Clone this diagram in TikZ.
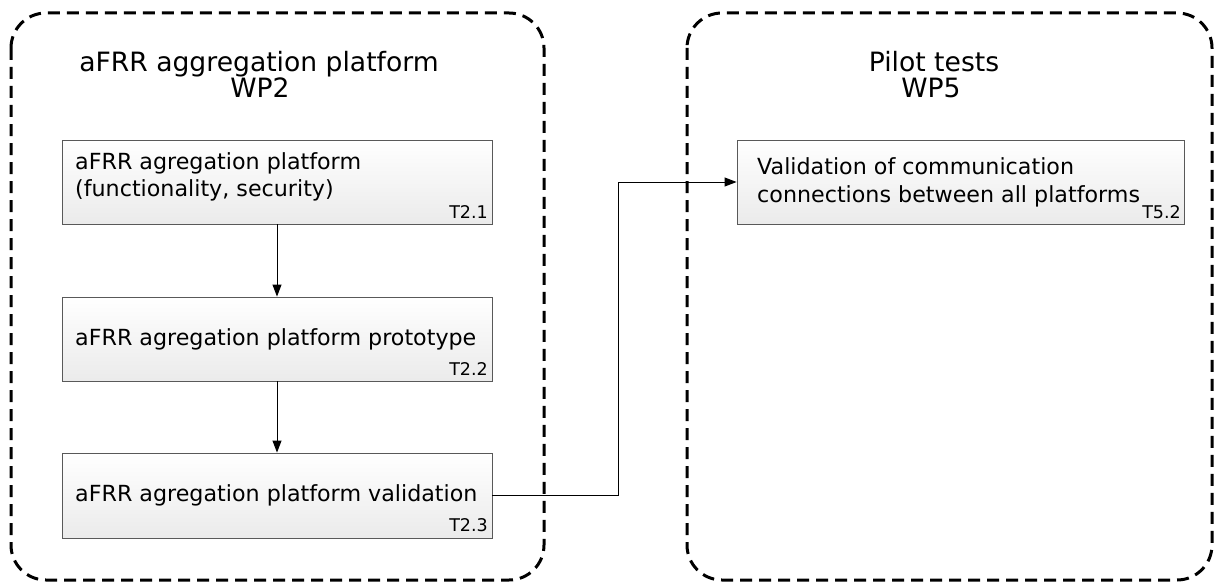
\documentclass[tikz,border=0pt]{standalone}
\usepackage{fontspec}
\setmainfont{DejaVu Sans}
\usetikzlibrary{arrows.meta}
\begin{document}
\begin{tikzpicture}[x=1pt,y=-1pt,
  container/.style={draw=black, line width=3pt, dash pattern=on 12pt off 7pt, rounded corners=35pt},
  taskbox/.style={draw=black!65, line width=0.9pt, top color=white, bottom color=black!8, inner sep=0pt},
  boxtext/.style={font=\fontsize{22.2}{27.5}\selectfont, align=left, inner sep=0pt},
  tasklabel/.style={font=\fontsize{17.5}{19}\selectfont, inner sep=0pt, anchor=base east},
  titletext/.style={font=\fontsize{26.6}{28}\selectfont, inner sep=0pt, anchor=base},
  conn/.style={draw=black, line width=0.9pt, -{Triangle[length=12pt,width=9pt]}}
]
\useasboundingbox (0,0) rectangle (1214,583);

% containers
\draw[container] (11,13) rectangle (544,580);
\draw[container] (687,13) rectangle (1212,580);

% titles
\node[titletext] (t1a) at (259,72) {aFRR aggregation platform};
\node[titletext] (t1b) at (260,98) {WP2};
\node[titletext] (t2a) at (934,72) {Pilot tests};
\node[titletext] (t2b) at (931,98) {WP5};

% task boxes
\node[taskbox, minimum width=430pt, minimum height=84pt] (b1) at (277,182) {};
\node[taskbox, minimum width=430pt, minimum height=84pt] (b2) at (277,339) {};
\node[taskbox, minimum width=430pt, minimum height=85pt] (b3) at (277,495.5) {};
\node[taskbox, minimum width=447pt, minimum height=84pt] (b5) at (960.5,182) {};

% box texts
\node[boxtext, anchor=west] (b1t) at (75,177) {aFRR agregation platform\\(functionality, security)};
\node[boxtext, anchor=west] (b2t) at (75,339) {aFRR agregation platform prototype};
\node[boxtext, anchor=west] (b3t) at (75,495.5) {aFRR agregation platform validation};
\node[boxtext, anchor=west] (b5t) at (757,182.5) {Validation of communication\\connections between all platforms};

% task labels
\node[tasklabel] (l1) at (488,218) {T2.1};
\node[tasklabel] (l2) at (488,375) {T2.2};
\node[tasklabel] (l3) at (488,531) {T2.3};
\node[tasklabel] (l5) at (1181,218) {T5.2};

% connectors
\coordinate (e1) at (618,495.5);
\coordinate (e2) at (618,182);
\draw[conn] (b1.south) -- (b2.north);
\draw[conn] (b2.south) -- (b3.north);
\draw[conn] (b3.east) -- (e1) -- (e2) -- (b5.west);
\end{tikzpicture}
\end{document}
